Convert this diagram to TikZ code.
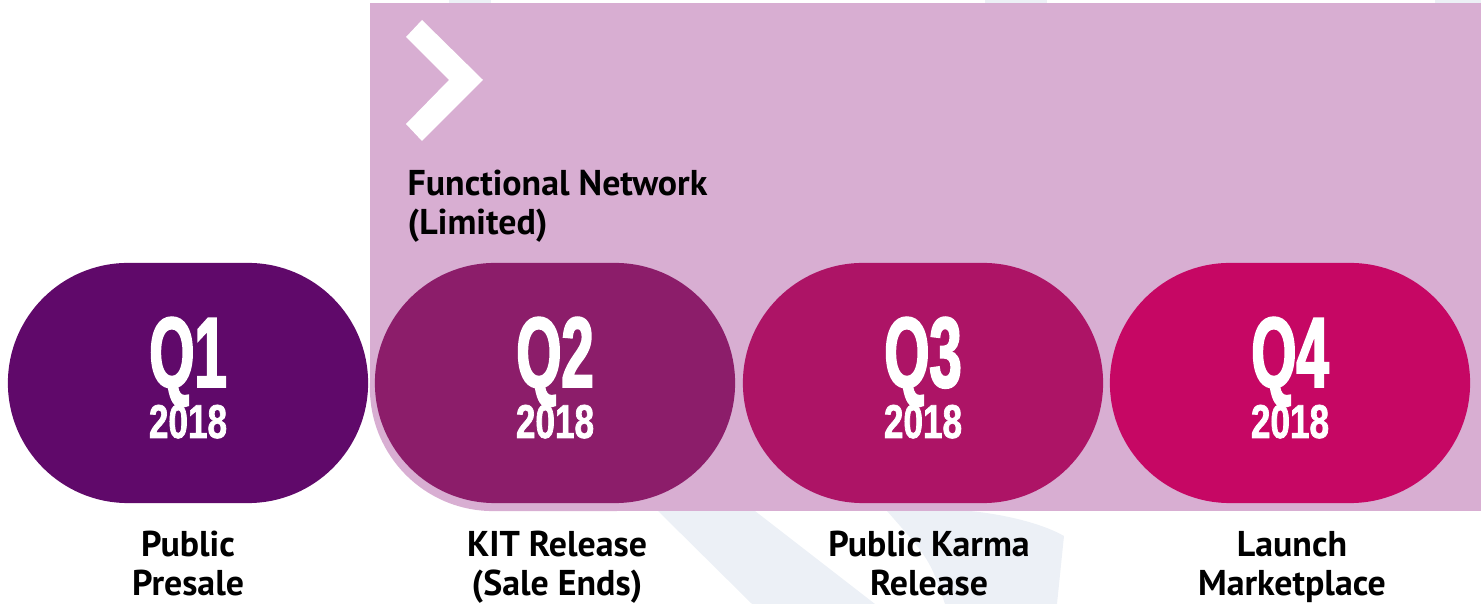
\documentclass[tikz,border=0pt]{standalone}
\usepackage{fontspec}
\setmainfont{PT Sans}
\newfontfamily\qfont[FakeStretch=0.58, FakeBold=2]{Liberation Sans}
\newfontfamily\yfont[FakeStretch=0.74, FakeBold=1.5]{Liberation Sans}
\usetikzlibrary{shapes.misc}
\definecolor{qone}{RGB}{96,9,106}
\definecolor{qtwo}{RGB}{140,29,106}
\definecolor{qthree}{RGB}{173,20,102}
\definecolor{qfour}{RGB}{198,7,100}
\definecolor{band}{RGB}{216,174,210}
\definecolor{wmark}{RGB}{236,240,246}

\begin{document}
\begin{tikzpicture}[x=0.01cm, y=-0.01cm]
\tikzset{quarter/.style = {shape=rounded rectangle, minimum width=3.6cm, minimum height=2.4cm, inner sep=0pt}}
    \tikzset{qname/.style = {text=white, font=\qfont\bfseries\fontsize{28.4}{30}\selectfont, anchor=base, inner sep=0pt, text depth=0pt}}
    \tikzset{qyear/.style = {text=white, font=\yfont\bfseries\fontsize{13.5}{14}\selectfont, anchor=base, inner sep=0pt, text height=3.4mm}}
    \tikzset{milestone/.style = {font=\bfseries\fontsize{10.2}{11.2}\selectfont, align=center, anchor=base, inner sep=0pt}}
\useasboundingbox (0,0) rectangle (1481,604);

% Faint watermark behind everything
\fill[wmark] (449,0) rectangle (491,3);
\fill[wmark] (985,0) rectangle (1047,3);
\fill[wmark] (1435,0) rectangle (1481,3);
\fill[wmark] (658,511) -- (755,511) -- (875,604) -- (752,604) -- cycle;
\fill[wmark] (887,511) -- (970,511) .. controls (1010,515) and (1045,525) .. (1064,536)
    -- (1057,604) -- (945,604) .. controls (930,560) .. (887,511) -- cycle;

% Band for the functional network
\fill[band] (370,3) rectangle (1481,383);
\fill[band] (553,383) rectangle (1481,511);
\node[quarter, fill=band, minimum width=3.66cm, minimum height=2.46cm] (shadow) at (553,388) {};
\fill[white] (406,37) -- (422,20) -- (483,80) -- (422,141) -- (406,124) -- (449,80) -- cycle;
\node[milestone, anchor=base west, align=left] (net) at (407,235) {Functional Network\\(Limited)};

% The four quarters
\node[quarter, fill=qone] (q1) at (188,383) {};
\node[quarter, fill=qtwo] (q2) at (555,383) {};
\node[quarter, fill=qthree] (q3) at (923,383) {};
\node[quarter, fill=qfour] (q4) at (1290,383) {};

\node[qname] (q1n) at (188,387) {Q1};
\node[qname] (q2n) at (555,387) {Q2};
\node[qname] (q3n) at (923,387) {Q3};
\node[qname] (q4n) at (1290,387) {Q4};

\node[qyear] (q1y) at (188,438) {2018};
\node[qyear] (q2y) at (555,438) {2018};
\node[qyear] (q3y) at (923,438) {2018};
\node[qyear] (q4y) at (1290,438) {2018};

% Milestones under each quarter
\node[milestone] (m1) at (188,596) {Public\\Presale};
\node[milestone] (m2) at (557,596) {KIT Release\\(Sale Ends)};
\node[milestone] (m3) at (929,596) {Public Karma\\Release};
\node[milestone] (m4) at (1292,596) {Launch\\Marketplace};
\end{tikzpicture}
\end{document}
